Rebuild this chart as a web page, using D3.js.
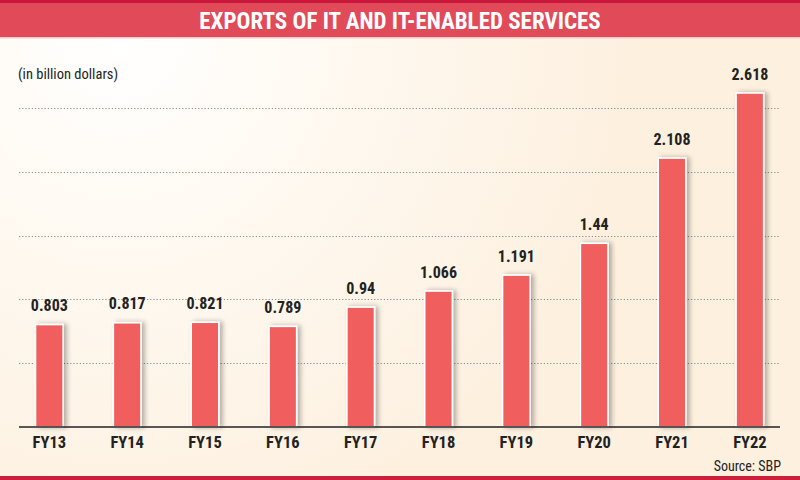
<!DOCTYPE html>
<html><head><meta charset="utf-8">
<script src="https://cdn.jsdelivr.net/npm/d3@7"></script>
<style>
html,body{margin:0;padding:0;background:#fff;}
svg{display:block;}
text{font-family:"Liberation Sans Narrow","Roboto Condensed","DejaVu Sans Condensed","Liberation Sans",sans-serif;}
</style></head>
<body><svg id="c" width="800" height="480"></svg>
<script>
const categories = ["FY13","FY14","FY15","FY16","FY17","FY18","FY19","FY20","FY21","FY22"];
const values = [0.803,0.817,0.821,0.789,0.94,1.066,1.191,1.44,2.108,2.618];
const valueLabels = ["0.803","0.817","0.821","0.789","0.94","1.066","1.191","1.44","2.108","2.618"];
const gridValues = [0.5,1,1.5,2,2.5];
const title = "EXPORTS OF IT AND IT-ENABLED SERVICES";
const unitLabel = "(in billion dollars)";
const sourceLabel = "Source: SBP";

const W = 800, H = 480;
const svg = d3.select("#c");
const defs = svg.append("defs");
const rg = defs.append("radialGradient").attr("id","bg")
  .attr("gradientUnits","userSpaceOnUse").attr("cx",120).attr("cy",40).attr("r",520);
rg.append("stop").attr("offset","0").attr("stop-color","#ffffff");
rg.append("stop").attr("offset","0.35").attr("stop-color","#fffaf3");
rg.append("stop").attr("offset","1").attr("stop-color","#fdf0df");
const f = defs.append("filter").attr("id","sh").attr("x","-50%").attr("y","-20%").attr("width","200%").attr("height","140%");
f.append("feGaussianBlur").attr("in","SourceAlpha").attr("stdDeviation",2.5).attr("result","b");
f.append("feOffset").attr("in","b").attr("dx",3).attr("dy",0).attr("result","o");
f.append("feComponentTransfer").attr("in","o").attr("result","o2")
  .append("feFuncA").attr("type","linear").attr("slope",0.3);
const m = f.append("feMerge");
m.append("feMergeNode").attr("in","o2");
m.append("feMergeNode").attr("in","SourceGraphic");

svg.append("rect").attr("width",W).attr("height",H).attr("fill","url(#bg)");

// title band
svg.append("rect").attr("x",0).attr("y",0).attr("width",W).attr("height",37).attr("fill","#e14a58");
svg.append("rect").attr("x",0).attr("y",0).attr("width",W).attr("height",3).attr("fill","#c8173a");
svg.append("rect").attr("x",0).attr("y",37).attr("width",W).attr("height",1.5).attr("fill","#f6c9c9");
svg.append("text").attr("x",400).attr("y",28.5).attr("text-anchor","middle")
  .attr("fill","#fff").attr("font-weight","bold").attr("font-size",23).text(title);

// bottom line
svg.append("rect").attr("x",0).attr("y",476).attr("width",W).attr("height",4).attr("fill","#cc1f3c");

const x = d3.scaleBand().domain(categories).range([10.6,788.6]).paddingInner(0.645).paddingOuter(0.32);
const y = d3.scaleLinear().domain([0,2.618]).range([427,93]);

// grid
svg.append("g").selectAll("line").data(gridValues).join("line")
  .attr("x1",19).attr("x2",780).attr("y1",d=>Math.round(y(d))+0.5).attr("y2",d=>Math.round(y(d))+0.5)
  .attr("stroke","#8a8a8a").attr("stroke-width",1).attr("stroke-dasharray","1.2,2");

// bars
svg.append("g").selectAll("rect").data(values).join("rect")
  .attr("x",(d,i)=>x(categories[i])).attr("width",x.bandwidth())
  .attr("y",d=>y(d)).attr("height",d=>y(0)-y(d))
  .attr("fill","#f05e5d").attr("stroke","#ffffff").attr("stroke-width",1.6)
  .attr("filter","url(#sh)");

// axis
const xAxis = d3.axisBottom(x).tickSize(0).tickPadding(9);
const ag = svg.append("g").attr("transform","translate(0,427)").call(xAxis);
ag.select(".domain").remove();
svg.append("line").attr("x1",19).attr("x2",780).attr("y1",427).attr("y2",427).attr("stroke","#222").attr("stroke-width",1.6);
ag.selectAll("text").attr("font-size",16.5).attr("font-weight","bold").attr("fill","#222")
  .attr("font-family",'"Liberation Sans Narrow","Roboto Condensed","DejaVu Sans Condensed",sans-serif');

// value labels
svg.append("g").selectAll("text").data(values).join("text")
  .attr("x",(d,i)=>x(categories[i])+x.bandwidth()/2).attr("y",d=>y(d)-13.5)
  .attr("text-anchor","middle").attr("font-size",16).attr("font-weight","bold").attr("fill","#222")
  .text((d,i)=>valueLabels[i]);

svg.append("text").attr("x",18).attr("y",79).attr("font-size",14.5).attr("fill","#222").text(unitLabel);
svg.append("text").attr("x",781).attr("y",471).attr("text-anchor","end").attr("font-size",14).attr("fill","#222").text(sourceLabel);
</script></body></html>
